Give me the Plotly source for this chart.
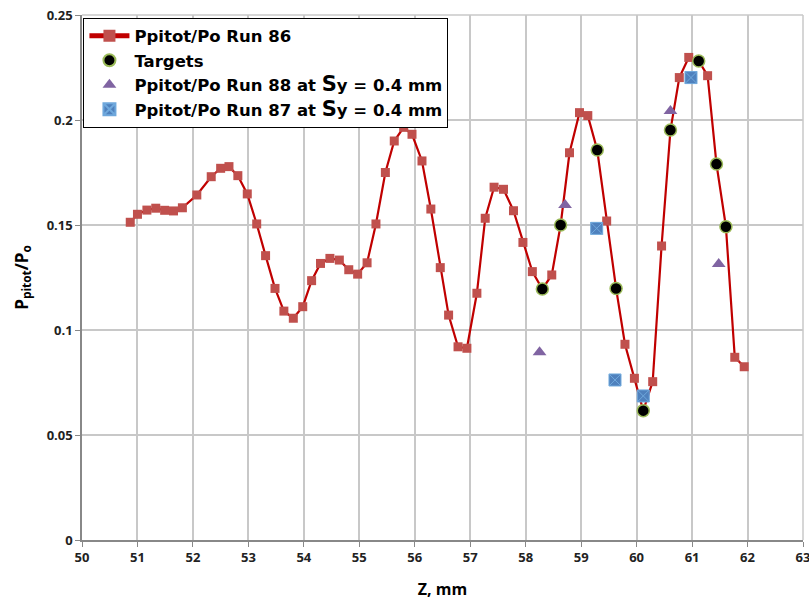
import plotly.graph_objects as go

# Run 86 (red squares with line)
run86_z = [50.87, 51.00, 51.17, 51.33, 51.49, 51.65, 51.81, 52.07, 52.33, 52.50,
           52.65, 52.81, 52.98, 53.15, 53.31, 53.48, 53.64, 53.81, 53.98, 54.14,
           54.30, 54.47, 54.64, 54.81, 54.97, 55.14, 55.30, 55.47, 55.63, 55.80,
           55.95, 56.13, 56.29, 56.46, 56.61, 56.78, 56.94, 57.12, 57.27, 57.43,
           57.60, 57.78, 57.95, 58.12, 58.30, 58.47, 58.63, 58.79, 58.97, 59.12,
           59.29, 59.46, 59.63, 59.79, 59.96, 60.12, 60.29, 60.45, 60.61, 60.77,
           60.94, 61.12, 61.28, 61.44, 61.61, 61.77, 61.94]
run86_p = [0.1513, 0.1551, 0.1571, 0.1580, 0.1570, 0.1567, 0.1582, 0.1643, 0.1730, 0.1770,
           0.1778, 0.1735, 0.1648, 0.1505, 0.1354, 0.1198, 0.1090, 0.1056, 0.1111, 0.1235,
           0.1317, 0.1341, 0.1333, 0.1287, 0.1266, 0.1320, 0.1505, 0.1750, 0.1900, 0.1965,
           0.1932, 0.1805, 0.1576, 0.1297, 0.1071, 0.0920, 0.0913, 0.1175, 0.1532, 0.1680,
           0.1670, 0.1568, 0.1417, 0.1278, 0.1195, 0.1262, 0.1500, 0.1844, 0.2035, 0.2021,
           0.1857, 0.1519, 0.1198, 0.0932, 0.0770, 0.0616, 0.0754, 0.1400, 0.1952, 0.2202,
           0.2298, 0.2281, 0.2211, 0.1790, 0.1492, 0.0870, 0.0825]

# Targets
target_z = [58.30, 58.63, 59.29, 59.63, 60.12, 60.61, 61.12, 61.44, 61.61]
target_p = [0.1195, 0.1500, 0.1857, 0.1198, 0.0616, 0.1952, 0.2281, 0.1790, 0.1492]

# Run 88 at Sy = 0.4 mm
run88_z = [58.25, 58.71, 60.61, 61.48]
run88_p = [0.0894, 0.1595, 0.2043, 0.1314]

# Run 87 at Sy = 0.4 mm
run87_z = [59.28, 59.61, 60.12, 60.98]
run87_p = [0.1484, 0.0762, 0.0686, 0.2202]

x_ticks = list(range(50, 64))
y_ticks = [0, 0.05, 0.1, 0.15, 0.2, 0.25]
y_tick_text = ["0", "0.05", "0.1", "0.15", "0.2", "0.25"]

sy = "<span style='font-size:21px'>S</span>y"
GRID = "#C8C8C8"

fig = go.Figure()
fig.add_trace(go.Scatter(
    x=run86_z, y=run86_p, mode="lines+markers", name="Ppitot/Po Run 86",
    line=dict(color="#C00000", width=2.2),
    marker=dict(symbol="square", size=9, color="#C0504D")))
fig.add_trace(go.Scatter(
    x=target_z, y=target_p, mode="markers", name="Targets",
    marker=dict(symbol="circle", size=12, color="black",
                line=dict(color="#9BBB59", width=1.5))))
fig.add_trace(go.Scatter(
    x=run88_z, y=run88_p, mode="markers", name="Ppitot/Po Run 88 at " + sy + " = 0.4 mm",
    marker=dict(symbol="triangle-up", size=12, color="#8064A2")))
fig.add_trace(go.Scatter(
    x=run87_z, y=run87_p, mode="markers", name="Ppitot/Po Run 87 at " + sy + " = 0.4 mm",
    marker=dict(symbol="square-x", size=12, color="#4F81BD",
                line=dict(color="#6FA8DC", width=1))))

# top and right frame lines drawn like gridlines
fig.add_shape(type="line", xref="paper", yref="paper", x0=0, x1=1, y0=1, y1=1,
              line=dict(color=GRID, width=1.5), layer="below")
fig.add_shape(type="line", xref="paper", yref="paper", x0=1, x1=1, y0=0, y1=1,
              line=dict(color=GRID, width=1.5), layer="below")

tickfont = dict(family="Open Sans", size=13, color="#222222", weight="bold")
fig.update_layout(
    width=809, height=602,
    margin=dict(l=82, r=6, t=15, b=62),
    paper_bgcolor="white", plot_bgcolor="white",
    font=dict(family="Open Sans", color="black"),
    showlegend=True,
    legend=dict(x=0.002, y=0.995, xanchor="left", yanchor="top",
                bgcolor="white", bordercolor="black", borderwidth=1,
                font=dict(family="DejaVu Sans", size=16.5, color="black", weight="bold"),
                tracegroupgap=0, itemsizing="constant", itemwidth=40),
    xaxis=dict(range=[50, 63], tickmode="array", tickvals=x_ticks,
               ticktext=[str(v) for v in x_ticks],
               showgrid=True, gridcolor=GRID, gridwidth=1.5,
               showline=True, linecolor="#888888", linewidth=1.5,
               ticks="outside", ticklen=5, tickcolor="#888888",
               tickfont=tickfont, ticklabeloverflow="allow",
               title=dict(text="<b>Z, mm</b>", font=dict(family="Open Sans", size=16, color="black"),
                          standoff=18),
               zeroline=False, automargin=False),
    yaxis=dict(range=[0, 0.25], tickmode="array", tickvals=y_ticks, ticktext=y_tick_text,
               showgrid=True, gridcolor=GRID, gridwidth=1.5,
               showline=True, linecolor="#888888", linewidth=1.5,
               ticks="outside", ticklen=5, tickcolor="#888888",
               tickfont=tickfont, ticklabeloverflow="allow",
               title=dict(text="<b>P<sub>pitot</sub>/P<sub>o</sub></b>",
                          font=dict(family="Open Sans", size=17, color="black"), standoff=14),
               zeroline=False, automargin=False),
)
fig.write_html("out.html")
